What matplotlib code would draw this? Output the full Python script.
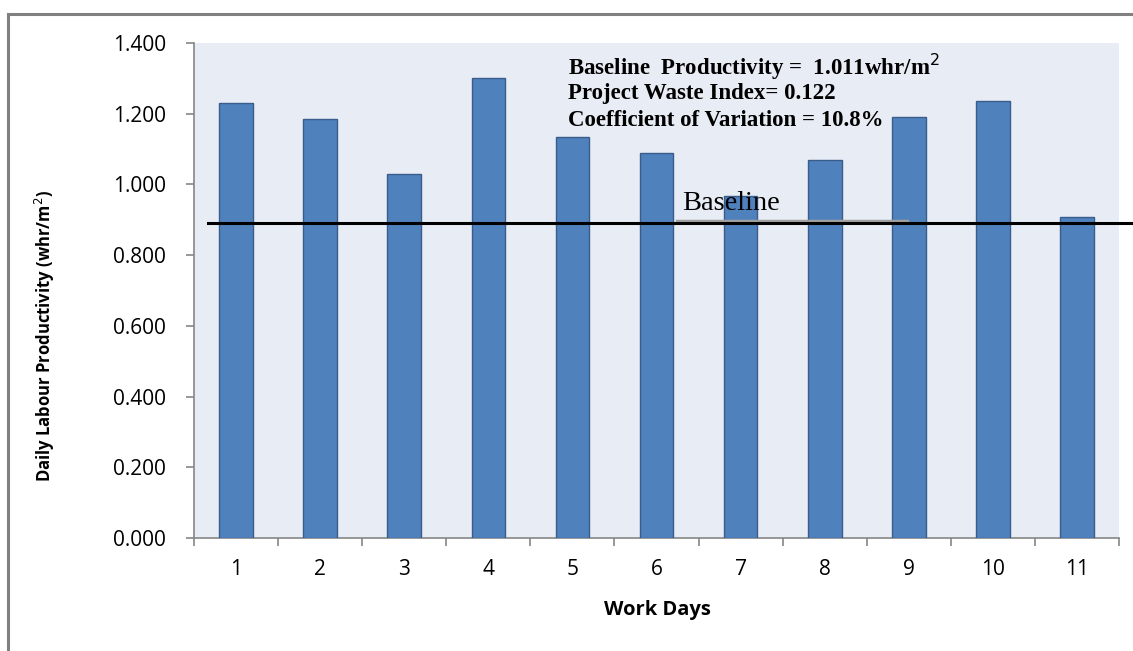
import matplotlib
matplotlib.use("Agg")
import matplotlib.pyplot as plt
from matplotlib.lines import Line2D

days = ["1", "2", "3", "4", "5", "6", "7", "8", "9", "10", "11"]
productivity = [1.230, 1.185, 1.030, 1.301, 1.134, 1.089, 0.967, 1.069, 1.191, 1.236, 0.907]
baseline_value = 0.891
yticks = [0.0, 0.2, 0.4, 0.6, 0.8, 1.0, 1.2, 1.4]
annotation_lines = ["Baseline  Productivity =  1.011whr/m$^2$",
                    "Project Waste Index= 0.122",
                    "Coefficient of Variation = 10.8%"]

W, H = 1133, 651
fig = plt.figure(figsize=(W / 100, H / 100), dpi=100)
fig.patch.set_facecolor("white")

# plot area in pixels: left 194, right 1119, top 43, bottom 538
l, r, t, b = 194, 1119, 43, 538
ax = fig.add_axes([l / W, 1 - b / H, (r - l) / W, (b - t) / H])
ax.set_facecolor("#e8ecf4")

x = list(range(len(days)))
ax.bar(x, productivity, width=0.40, color="#4f81bd", edgecolor="#385d8a", linewidth=1.0, zorder=3)

ax.set_xlim(-0.5, len(days) - 0.5)
ax.set_ylim(0, 1.4)
ax.set_yticks(yticks)
ax.set_yticklabels([f"{v:.3f}" for v in yticks], fontsize=15, family="Open Sans")
ax.set_xticks(x)
ax.set_xticklabels(days, fontsize=15, family="Open Sans")
ax.set_xticks([i - 0.5 for i in range(len(days) + 1)], minor=True)
ax.tick_params(axis="x", which="major", length=0, pad=15)
ax.tick_params(axis="x", which="minor", length=6, color="#868686", width=1.2)
ax.tick_params(axis="y", length=6, color="#868686", width=1.2, pad=14, direction="out")

for s in ["top", "right"]:
    ax.spines[s].set_visible(False)
for s in ["left", "bottom"]:
    ax.spines[s].set_color("#868686")
    ax.spines[s].set_linewidth(1.2)

fig.text(657 / W, 1 - 610 / H, "Work Days", fontsize=14.5, fontweight="bold",
         family="Open Sans", ha="center", va="center")
fig.text(45 / W, 1 - 336 / H, "Daily Labour Productivity (whr/m$^2$)", fontsize=12,
         fontweight="bold", family="Open Sans", rotation=90, ha="center", va="center")

# baseline line extending past the plot area to the image edge
by = 1 - (b - baseline_value / 1.4 * (b - t)) / H
fig.add_artist(Line2D([208 / W, 1.0], [by, by], color="black", linewidth=2.2, zorder=5))
fig.add_artist(Line2D([677 / W, 907 / W], [by + 1.5 / H, by + 1.5 / H], color="#a0a0a0",
                      linewidth=2.5, zorder=4))
fig.text(682 / W, 1 - 204 / H, "Baseline", fontsize=20.5, family="Liberation Serif",
         va="center", ha="left", zorder=6)

for i, line in enumerate(annotation_lines):
    fig.text(568 / W, 1 - (67 + 27 * i) / H, line, fontsize=16.5, fontweight="bold",
             family="Liberation Serif", va="center", ha="left", zorder=6)

# outer frame (top and left)
fig.add_artist(Line2D([8 / W, 8 / W], [0, 1 - 14 / H], color="#808080", linewidth=2.2))
fig.add_artist(Line2D([8 / W, 1.0], [1 - 14 / H, 1 - 14 / H], color="#808080", linewidth=2.2))

fig.savefig("out.png", dpi=100, facecolor="white")
